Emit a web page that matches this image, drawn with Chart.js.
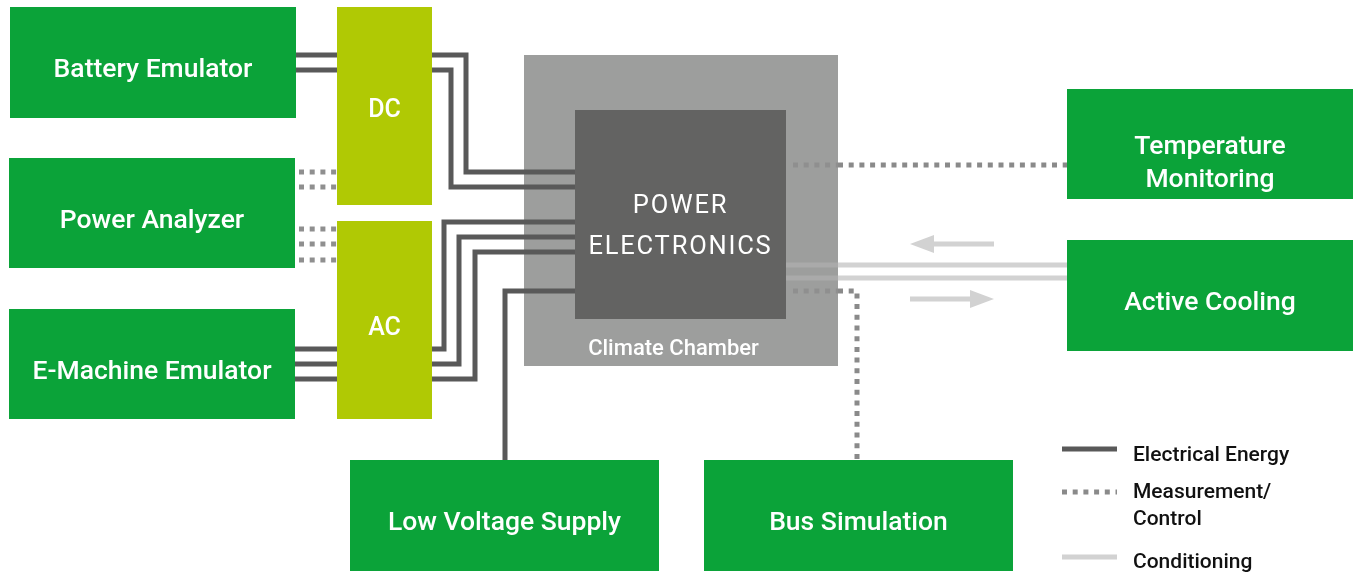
<!DOCTYPE html>
<html>
<head>
<meta charset="utf-8">
<title>Power electronics test bench</title>
<script src="https://cdn.jsdelivr.net/npm/chart.js@4/dist/chart.umd.min.js"></script>
<style>
  html, body { margin: 0; padding: 0; background: #fff; }
  #wrap { width: 1356px; height: 574px; }
</style>
</head>
<body>
<div id="wrap"><canvas id="diagram" width="1356" height="574"></canvas></div>
<script>
// ---- diagram data (pixel units of the 1356x574 picture, y grows downwards) ----
const nodeLabels = ['Battery Emulator', 'Power Analyzer', 'E-Machine Emulator', 'DC', 'AC',
  'Climate Chamber', 'POWER\nELECTRONICS', 'Temperature\nMonitoring', 'Active Cooling',
  'Low Voltage Supply', 'Bus Simulation'];
const nodeKind   = ['device', 'device', 'device', 'converter', 'converter',
  'chamber', 'dut', 'device', 'device', 'device', 'device'];
const nodeLeft   = [10, 9, 9, 337, 337, 524, 575, 1067, 1067, 350, 704];
const nodeRight  = [296, 295, 295, 432, 432, 838, 786, 1353, 1353, 659, 1013];
const nodeTop    = [7, 158, 309, 7, 221, 55, 110, 89, 240, 460, 460];
const nodeBottom = [118, 268, 419, 205, 419, 366, 319, 199, 351, 571, 571];

// electrical energy wires
const energyPaths = [
  [[296, 55], [337, 55]],
  [[296, 70], [337, 70]],
  [[432, 55], [466, 55], [466, 172], [575, 172]],
  [[432, 70], [451, 70], [451, 187], [575, 187]],
  [[295, 349], [337, 349]],
  [[295, 364], [337, 364]],
  [[295, 379], [337, 379]],
  [[432, 349], [444, 349], [444, 222], [575, 222]],
  [[432, 364], [459, 364], [459, 237], [575, 237]],
  [[432, 379], [475, 379], [475, 252], [575, 252]],
  [[505, 460], [505, 291], [575, 291]]
];
// measurement / control links
const measurePaths = [
  [[299, 172], [337, 172]],
  [[299, 187], [337, 187]],
  [[299, 229], [337, 229]],
  [[299, 244], [337, 244]],
  [[299, 260], [337, 260]],
  [[793, 165], [838, 165], [1067, 165]],
  [[793, 291], [838, 291], [857, 291], [857, 460]]
];
// conditioning (coolant) lines
const condPaths = [
  [[786, 265], [838, 265], [1067, 265]],
  [[786, 278], [838, 278], [1067, 278]]
];
// coolant flow arrows: shaft start/end and head centre
const arrowShafts = [[[994, 244], [926, 244]], [[910, 299], [978, 299]]];
const arrowHeads  = [[922, 244], [982, 299]];
const arrowTurn   = [180, 0];

// legend
const legendLabels = ['Electrical Energy', 'Measurement/\nControl', 'Conditioning'];
const legendLineY  = [449, 492, 557];
const legendTextY  = [454, 491, 560.5];
const legendX      = [1062, 1117];

// ---- styles ----
const GREEN = '#0ba339', LIME = '#b0c904', CHAMBER = '#9d9e9d', DUT = '#636362';
const WIRE = '#595959', DOTS = '#8a8a8a', COND = '#d2d2d2';
const FONT = 'Roboto, "Noto Sans", sans-serif';

const pts = path => path.map(p => ({ x: p[0], y: p[1] }));
const insideChamber = c => c.p0.parsed.x < 838.5 && c.p1.parsed.x <= 838.5 && c.p0.parsed.y < 366;

function lineSet(path, color, extra) {
  return Object.assign({
    type: 'scatter', data: pts(path), showLine: true, pointRadius: 0, pointHoverRadius: 0,
    borderColor: color, borderWidth: 5, borderJoinStyle: 'miter', borderCapStyle: 'butt',
    tension: 0, clip: false
  }, extra || {});
}

// arrowhead image for the coolant flow
function arrowHeadImage() {
  const c = document.createElement('canvas');
  c.width = 24; c.height = 18;
  const g = c.getContext('2d');
  g.fillStyle = COND;
  g.beginPath(); g.moveTo(0, 0); g.lineTo(24, 9); g.lineTo(0, 18); g.closePath(); g.fill();
  return c;
}

const datasets = [];
energyPaths.forEach(p => datasets.push(lineSet(p, WIRE)));
measurePaths.forEach(p => datasets.push(lineSet(p, DOTS, {
  borderDash: [5, 5.7],
  segment: { borderColor: c => insideChamber(c) ? '#8f8f8f' : DOTS }
})));
condPaths.forEach(p => datasets.push(lineSet(p, COND, {
  segment: { borderColor: c => insideChamber(c) ? '#aaaaaa' : COND }
})));
arrowShafts.forEach(p => datasets.push(lineSet(p, COND)));
datasets.push({
  type: 'scatter', data: pts(arrowHeads), pointStyle: arrowHeadImage(), rotation: arrowTurn,
  pointRadius: 12, pointHoverRadius: 12, showLine: false, clip: false
});
datasets.push(lineSet([[legendX[0], legendLineY[0]], [legendX[1], legendLineY[0]]], WIRE));
datasets.push(lineSet([[legendX[0], legendLineY[1]], [legendX[1], legendLineY[1]]], DOTS, { borderDash: [5, 5.7] }));
datasets.push(lineSet([[legendX[0], legendLineY[2]], [legendX[1], legendLineY[2]]], COND));

// write text so that the middle of its capitals sits on capMid
function capText(ctx, t, px, capMid, size) {
  ctx.fillText(t, px, capMid + size * 0.711 / 2);
}

// boxes under the wires, labels above them
const boxPlugin = {
  id: 'boxes',
  beforeDatasetsDraw(chart) {
    const { ctx, scales: { x, y } } = chart;
    const fills = { device: GREEN, converter: LIME, chamber: CHAMBER, dut: DUT };
    ctx.save();
    nodeLabels.forEach((_, i) => {
      const x0 = x.getPixelForValue(nodeLeft[i]), x1 = x.getPixelForValue(nodeRight[i]);
      const y0 = y.getPixelForValue(nodeTop[i]), y1 = y.getPixelForValue(nodeBottom[i]);
      ctx.fillStyle = fills[nodeKind[i]];
      ctx.fillRect(x0, y0, x1 - x0, y1 - y0);
    });
    ctx.restore();
  },
  afterDatasetsDraw(chart) {
    const { ctx, scales: { x, y } } = chart;
    ctx.save();
    ctx.textAlign = 'center';
    ctx.textBaseline = 'alphabetic';
    ctx.fillStyle = '#fff';
    nodeLabels.forEach((label, i) => {
      let cx = x.getPixelForValue((nodeLeft[i] + nodeRight[i]) / 2);
      let cy = y.getPixelForValue((nodeTop[i] + nodeBottom[i]) / 2);
      const lines = label.split('\n');
      let size = 26.5, lh = 33;
      ctx.letterSpacing = '0px';
      if (nodeKind[i] === 'chamber') {
        size = 22;
        cx -= 7.5;
        cy = y.getPixelForValue(nodeBottom[i]) - 19;
        ctx.font = '500 22px ' + FONT;
      } else if (nodeKind[i] === 'dut') {
        size = 25.5; lh = 41;
        cy += 10;
        ctx.font = '400 25.5px ' + FONT;
        ctx.letterSpacing = '1.8px';
      } else if (nodeKind[i] === 'converter') {
        size = 25;
        cy += label === 'AC' ? 6.5 : 2;
        ctx.font = '500 25px ' + FONT;
      } else {
        cy += lines.length > 1 ? 17.5 : 5.5;
        ctx.font = '500 26.5px ' + FONT;
      }
      lines.forEach((t, k) => capText(ctx, t, cx, cy + (k - (lines.length - 1) / 2) * lh, size));
    });
    // legend texts
    ctx.letterSpacing = '0px';
    ctx.textAlign = 'left';
    ctx.fillStyle = '#111';
    ctx.font = '500 21px ' + FONT;
    legendLabels.forEach((label, i) => {
      label.split('\n').forEach((t, k) => {
        capText(ctx, t, x.getPixelForValue(1133), y.getPixelForValue(legendTextY[i] + k * 26.5), 21);
      });
    });
    ctx.restore();
  }
};

new Chart(document.getElementById('diagram'), {
  type: 'scatter',
  data: { datasets },
  options: {
    responsive: false,
    animation: false,
    events: [],
    layout: { padding: 0, autoPadding: false },
    scales: {
      x: { type: 'linear', min: 0, max: 1356, display: false },
      y: { type: 'linear', min: 0, max: 574, reverse: true, display: false }
    },
    plugins: { legend: { display: false }, tooltip: { enabled: false } }
  },
  plugins: [boxPlugin]
});
</script>
</body>
</html>
